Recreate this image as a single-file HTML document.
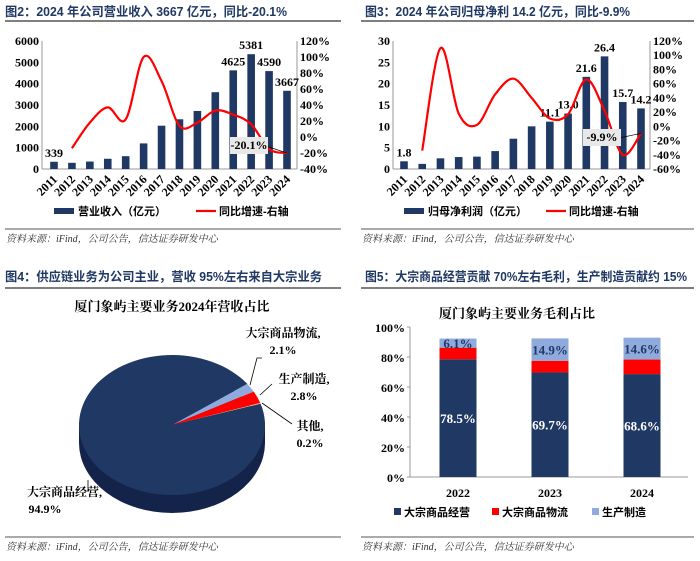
<!DOCTYPE html>
<html><head><meta charset="utf-8">
<style>
html,body{margin:0;padding:0;background:#fff;}
svg{display:block;font-family:"Liberation Serif","Noto Serif CJK SC",serif;}
.hd{font-family:"Liberation Sans","Noto Sans CJK SC",sans-serif;font-weight:bold;fill:#1f3864;font-size:12.5px;}
.tk{font-weight:bold;font-size:12px;fill:#000;}
.src{font-family:"Liberation Serif","Noto Serif CJK SC",serif;font-style:italic;font-size:10px;fill:#333;}
.lg{font-family:"Liberation Sans","Noto Sans CJK SC",sans-serif;font-weight:bold;font-size:11px;fill:#000;}
</style></head>
<body>
<svg id="root" width="700" height="561" viewBox="0 0 700 561" xmlns="http://www.w3.org/2000/svg">
<g>
<text class="hd" x="5" y="16" textLength="282" lengthAdjust="spacingAndGlyphs">图2：2024 年公司营业收入 3667 亿元，同比-20.1%</text>
<line x1="5" y1="21" x2="341" y2="21" stroke="#555" stroke-width="1.5"/></g>
<g>
<text class="hd" x="365" y="16" textLength="265" lengthAdjust="spacingAndGlyphs">图3：2024 年公司归母净利 14.2 亿元，同比-9.9%</text>
<line x1="361" y1="21" x2="694" y2="21" stroke="#555" stroke-width="1.5"/></g>
<g>
<text class="hd" x="5" y="281" textLength="317" lengthAdjust="spacingAndGlyphs">图4：供应链业务为公司主业，营收 95%左右来自大宗业务</text>
<line x1="5" y1="288" x2="341" y2="288" stroke="#555" stroke-width="1.5"/></g>
<g>
<text class="hd" x="365" y="281" textLength="322" lengthAdjust="spacingAndGlyphs">图5：大宗商品经营贡献 70%左右毛利，生产制造贡献约 15%</text>
<line x1="361" y1="288" x2="694" y2="288" stroke="#555" stroke-width="1.5"/></g>
<g>
<line x1="5" y1="229" x2="341" y2="229" stroke="#555"/>
<line x1="361" y1="229" x2="694" y2="229" stroke="#555"/>
<line x1="5" y1="537" x2="341" y2="537" stroke="#555"/>
<line x1="361" y1="537" x2="694" y2="537" stroke="#555"/>
<text class="src" x="6" y="242">资料来源：iFind，公司公告，信达证券研发中心</text>
<text class="src" x="362" y="242">资料来源：iFind，公司公告，信达证券研发中心</text>
<text class="src" x="6" y="550">资料来源：iFind，公司公告，信达证券研发中心</text>
<text class="src" x="362" y="550">资料来源：iFind，公司公告，信达证券研发中心</text>
</g>
<g id="c1"></g>
<g id="c2"></g>
<g id="c3"></g>
<g id="c4"></g>
</svg>
<script>
const years = ["2011","2012","2013","2014","2015","2016","2017","2018","2019","2020","2021","2022","2023","2024"];
const revenue = [339,290,350,480,600,1200,2030,2330,2720,3600,4625,5381,4590,3667];
const revenueGrowth = [null,-14,18,37,22,100,70,14,18,33,28,16,-15,-20.1];
const revenueLabels = ["339","","","","","","","","","","4625","5381","4590","3667"];
const revLeftTicks = [0,1000,2000,3000,4000,5000,6000];
const revRightTicks = [-40,-20,0,20,40,60,80,100,120];
const profit = [1.8,1.2,2.5,2.8,2.9,4.2,7.1,10.0,11.1,13.0,21.6,26.4,15.7,14.2];
const profitGrowth = [null,-34,110,18,2,45,67,40,11,17,66,22,-40,-9.9];
const profitLabels = ["1.8","","","","","","","","11.1","13.0","21.6","26.4","15.7","14.2"];
const profLeftTicks = [0,5,10,15,20,25,30];
const profRightTicks = [-60,-40,-20,0,20,40,60,80,100,120];
const pieNames = ["大宗商品物流","生产制造","其他","大宗商品经营"];
const pieValues = [2.1,2.8,0.2,94.9];
const stackYears = ["2022","2023","2024"];
const stackOperation = [78.5,69.7,68.6];
const stackLogistics = [7.7,7.8,9.7];
const stackManufacturing = [6.1,14.9,14.6];
const stackTicks = [0,20,40,60,80,100];

const NS="http://www.w3.org/2000/svg";
function mk(parent,tag,attrs,txt){const e=document.createElementNS(NS,tag);for(const k in attrs)e.setAttribute(k,attrs[k]);if(txt!==undefined)e.textContent=txt;parent.appendChild(e);return e;}
const NAVY="#203864",RED="#ff0000",LB="#8faadc";

function smooth(pts){let d="M"+pts[0][0]+","+pts[0][1];for(let i=0;i<pts.length-1;i++){const p0=pts[i-1]||pts[i],p1=pts[i],p2=pts[i+1],p3=pts[i+2]||p2;const c1=[p1[0]+(p2[0]-p0[0])/6,p1[1]+(p2[1]-p0[1])/6],c2=[p2[0]-(p3[0]-p1[0])/6,p2[1]-(p3[1]-p1[1])/6];d+=" C"+c1[0]+","+c1[1]+" "+c2[0]+","+c2[1]+" "+p2[0]+","+p2[1];}return d;}

function comboChart(g,o){
  const yT=41,yB=169;
  const lMax=o.lt[o.lt.length-1],rMin=o.rt[0],rMax=o.rt[o.rt.length-1];
  const yL=v=>yB-(v/lMax)*(yB-yT);
  const yR=v=>yB-(v-rMin)/(rMax-rMin)*(yB-yT);
  const xB=i=>o.x0+i*(o.x1-o.x0)/(o.cats.length-1);
  mk(g,"line",{x1:o.ax,y1:yT,x2:o.ax,y2:yB,stroke:"#999"});
  mk(g,"line",{x1:o.rx,y1:yT,x2:o.rx,y2:yB,stroke:"#999"});
  mk(g,"line",{x1:o.ax,y1:yB,x2:o.rx,y2:yB,stroke:"#999"});
  o.lt.forEach(t=>{const e=mk(g,"text",{class:"tk",x:o.ax-3,y:yL(t)+4,"text-anchor":"end"},String(t));
    
    });
  o.rt.forEach(t=>{const e=mk(g,"text",{class:"tk",x:o.rx+3,y:yR(t)+4},t+"%");
    
    });
  o.cats.forEach((c,i)=>{const x=xB(i);
    const b=mk(g,"rect",{x:x-3.8,y:yL(o.vals[i]),width:7.6,height:yB-yL(o.vals[i]),fill:NAVY});
    
    
    const t=mk(g,"text",{class:"tk",x:x+4,y:180,"text-anchor":"end","font-size":"11.5",transform:"rotate(-45 "+(x+4)+" 180)"},c);
    
    
    if(o.labels[i]){const l=mk(g,"text",{class:"tk",x:x,y:yL(o.vals[i])-5,"text-anchor":"middle","font-size":"12"},o.labels[i]);
      
      }
  });
  const pts=[];o.growth.forEach((v,i)=>{if(v!==null)pts.push([xB(i),yR(v)]);});
  const ln=mk(g,"path",{d:smooth(pts),fill:"none",stroke:RED,"stroke-width":2.2});
  
  
  const last=pts[pts.length-1];
  const bx=o.annX,by=o.annY;
  mk(g,"line",{x1:bx+34,y1:by+1,x2:last[0],y2:last[1],stroke:"#000","stroke-width":0.7});
  mk(g,"rect",{x:bx-2,y:by-8,width:38,height:17,fill:"#e8e8e8"});
  const an=mk(g,"text",{class:"tk",x:bx+17,y:by+4,"text-anchor":"middle","font-size":"12"},o.growth[o.growth.length-1]+"%");
  
  
  const lg=mk(g,"g",{});
  
  
  mk(lg,"rect",{x:o.x0,y:208,width:20,height:6,fill:NAVY});
  mk(lg,"text",{class:"lg",x:o.x0+24,y:215},o.leg1);
  mk(lg,"line",{x1:o.x0+142,y1:211,x2:o.x0+162,y2:211,stroke:RED,"stroke-width":2.2});
  mk(lg,"text",{class:"lg",x:o.x0+165,y:215},"同比增速-右轴");
}
comboChart(document.getElementById("c1"),{cats:years,vals:revenue,growth:revenueGrowth,labels:revenueLabels,lt:revLeftTicks,rt:revRightTicks,ax:42,rx:297,x0:54,x1:287,annX:232,annY:145,leg1:"营业收入（亿元）"});
comboChart(document.getElementById("c2"),{cats:years,vals:profit,growth:profitGrowth,labels:profitLabels,lt:profLeftTicks,rt:profRightTicks,ax:393,rx:650,x0:404,x1:641,annX:585,annY:137,leg1:"归母净利润（亿元）"});

// Pie
(function(){
  const g=document.getElementById("c3");
  mk(g,"text",{x:172,y:311,"text-anchor":"middle","font-weight":"bold","font-size":"13"},"厦门象屿主要业务2024年营收占比");
  const cx=172,cy=425,rx=93,ry=70,dp=18;
  mk(g,"ellipse",{cx:cx,cy:cy+dp,rx:rx,ry:ry,fill:"#14234a"});
  mk(g,"rect",{x:cx-rx,y:cy,width:2*rx,height:dp,fill:"#14234a"});
  const cols=[LB,RED,"#f4b183",NAVY];
  const tot=pieValues.reduce((a,b)=>a+b,0);
  let a=-36*Math.PI/180;
  pieValues.forEach((v,i)=>{
    const a2=a+v/tot*2*Math.PI;
    const p1=[cx+rx*Math.cos(a),cy+ry*Math.sin(a)],p2=[cx+rx*Math.cos(a2),cy+ry*Math.sin(a2)];
    const large=(a2-a)>Math.PI?1:0;
    const s=mk(g,"path",{d:`M${cx},${cy} L${p1[0]},${p1[1]} A${rx},${ry} 0 ${large} 1 ${p2[0]},${p2[1]} Z`,fill:cols[i]});
    
    
    a=a2;
  });
  const lab=[[283,337,[[250,385],[257,358],[262,358]]],[304,383,[[260,395],[272,384]]],[310,430,[[262,403],[292,424]]],[65,496,[[88,480],[88,492]]]];
  pieValues.forEach((v,i)=>{
    const L=lab[i];
    mk(g,"polyline",{points:L[2].map(p=>p.join(",")).join(" "),fill:"none",stroke:"#000","stroke-width":0.8});
    const t=mk(g,"text",{x:i==3?27:L[0],y:L[1],"text-anchor":i==3?"start":"middle","font-weight":"bold","font-size":"12"},pieNames[i]+",");
    
    
    const p=mk(g,"text",{x:i==3?45:L[0],y:L[1]+17,"text-anchor":"middle","font-weight":"bold","font-size":"12"},v+"%");
    
    
  });
})();

// Stacked
(function(){
  const g=document.getElementById("c4");
  mk(g,"text",{x:517,y:318,"text-anchor":"middle","font-weight":"bold","font-size":"13"},"厦门象屿主要业务毛利占比");
  const yT=327,yB=477,ax=410,xr=688;
  const y=v=>yB-v/100*(yB-yT);
  const xs=i=>458+i*92;
  mk(g,"line",{x1:ax,y1:yT,x2:ax,y2:yB,stroke:"#999"});
  mk(g,"line",{x1:ax,y1:yB,x2:xr,y2:yB,stroke:"#999"});
  stackTicks.forEach(t=>{const e=mk(g,"text",{class:"tk",x:ax-5,y:y(t)+5,"text-anchor":"end","font-size":"12.5"},t+"%");
    
    
    mk(g,"line",{x1:ax-3,y1:y(t),x2:ax,y2:y(t),stroke:"#999"});});
  stackYears.forEach((c,i)=>{
    const x=xs(i)-18.5;let base=0;
    [[stackOperation,NAVY],[stackLogistics,RED],[stackManufacturing,LB]].forEach((s,k)=>{
      const v=s[0][i];
      const r=mk(g,"rect",{x:x,y:y(base+v),width:37,height:y(base)-y(base+v),fill:s[1]});
      
      
      if(k!=1){const t=mk(g,"text",{x:xs(i),y:(y(base+v)+y(base))/2+5,"text-anchor":"middle","font-weight":"bold","font-size":"13",fill:k==0?"#fff":NAVY},v.toFixed(1)+"%");
        
        }
      base+=v;
    });
    const t=mk(g,"text",{class:"tk",x:xs(i),y:497,"text-anchor":"middle","font-size":"13"},c);
    
    
  });
  const lg=mk(g,"g",{});
  
  
  [["大宗商品经营",NAVY,394],["大宗商品物流",RED,492],["生产制造",LB,592]].forEach(e=>{
    mk(lg,"rect",{x:e[2],y:508,width:7,height:7,fill:e[1]});
    mk(lg,"text",{class:"lg",x:e[2]+10,y:516,"font-size":"12"},e[0]);
  });
})();
</script>
</body></html>
